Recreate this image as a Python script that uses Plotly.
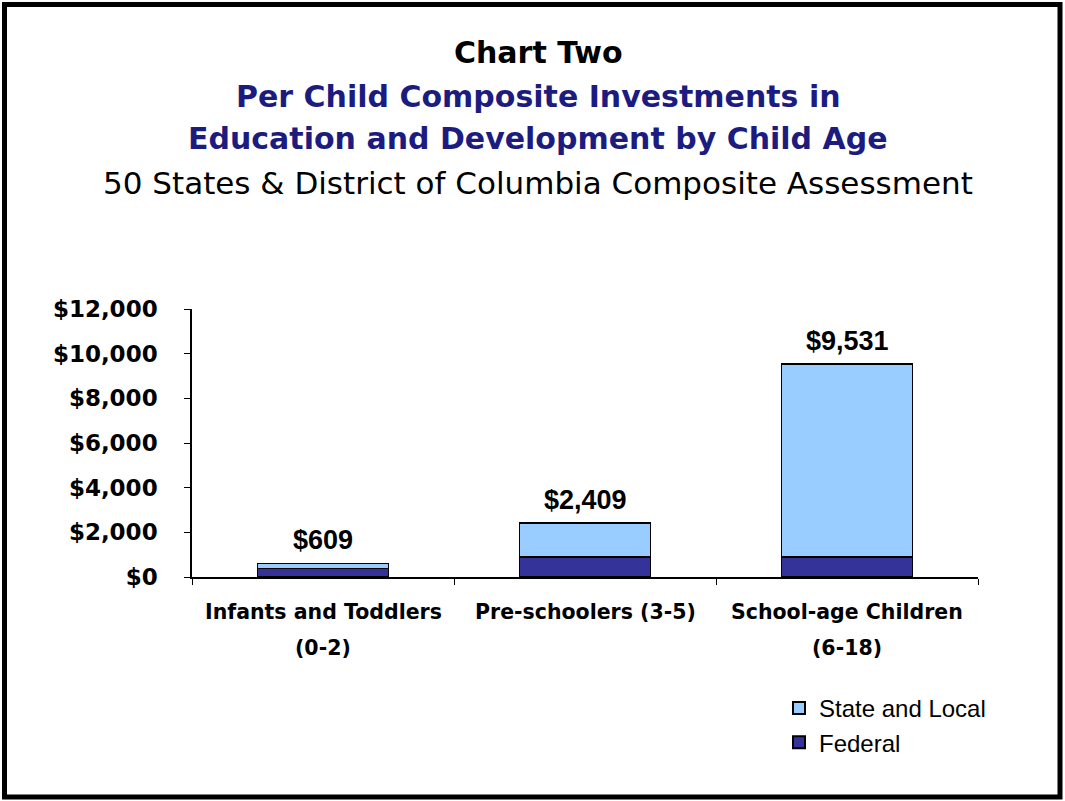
import plotly.graph_objects as go

categories = ["Infants and Toddlers (0-2)", "Pre-schoolers (3-5)", "School-age Children (6-18)"]
category_lines = [["Infants and Toddlers", "(0-2)"], ["Pre-schoolers (3-5)", ""], ["School-age Children", "(6-18)"]]
federal = [370, 900, 900]
totals = [609, 2409, 9531]
state_local = [t - f for t, f in zip(totals, federal)]
y_ticks = [0, 2000, 4000, 6000, 8000, 10000, 12000]
y_tick_labels = ["$0", "$2,000", "$4,000", "$6,000", "$8,000", "$10,000", "$12,000"]
total_labels = ["$609", "$2,409", "$9,531"]

W, H = 1065, 801
L, R, T, B = 192, 978, 309, 577
pw, ph = R - L, B - T


def px(x):
    return (x - L) / pw


def py(y):
    return (B - y) / ph


LIB = "Liberation Sans, Arial, sans-serif"
DJV = "DejaVu Sans, sans-serif"

fig = go.Figure()
fig.add_trace(go.Bar(x=categories, y=federal, name="Federal",
                     marker=dict(color="#333399", line=dict(color="black", width=1.5)),
                     width=0.5))
fig.add_trace(go.Bar(x=categories, y=state_local, name="State and Local",
                     marker=dict(color="#99CCFF", line=dict(color="black", width=1.5)),
                     width=0.5))

annotations = []
for c, t, lab in zip(categories, totals, total_labels):
    annotations.append(dict(x=c, y=t, text="<b>" + lab + "</b>", showarrow=False,
                            yanchor="bottom", yshift=6,
                            font=dict(family=LIB, size=27, color="black")))

for c, lines in zip(categories, category_lines):
    for text, ycen in zip(lines, [612, 648]):
        if text:
            annotations.append(dict(x=c, y=py(ycen), xref="x", yref="paper",
                                    text="<b>" + text + "</b>", showarrow=False,
                                    yanchor="middle",
                                    font=dict(family=DJV, size=20.5, color="black")))

titles = [
    ("<b>Chart Two</b>", 52, "black", 30),
    ("<b>Per Child Composite Investments in</b>", 97, "#1C1C80", 30),
    ("<b>Education and Development by Child Age</b>", 138, "#1C1C80", 30),
    ("50 States & District of Columbia Composite Assessment", 183, "black", 31),
]
for text, ycen, col, size in titles:
    annotations.append(dict(x=px(538), y=py(ycen), xref="paper", yref="paper",
                            text=text, showarrow=False, xanchor="center", yanchor="middle",
                            font=dict(family=DJV, size=size, color=col)))

fig.update_layout(
    width=W, height=H,
    margin=dict(l=L, r=W - R, t=T, b=H - B, autoexpand=False),
    paper_bgcolor="white", plot_bgcolor="white",
    barmode="stack", bargap=0.5,
    showlegend=True,
    legend=dict(x=px(779), y=py(686), xanchor="left", yanchor="top",
                traceorder="reversed", font=dict(family=LIB, size=24, color="black"),
                itemsizing="constant", tracegroupgap=0, bgcolor="rgba(0,0,0,0)"),
    xaxis=dict(type="category", showline=True, linecolor="black", linewidth=1.5,
               ticks="outside", tickson="boundaries", ticklen=6, tickcolor="black",
               showticklabels=False, showgrid=False, range=[-0.5, 2.5]),
    yaxis=dict(range=[0, 12000], tickvals=y_ticks, ticktext=["<b>%s</b>" % s for s in y_tick_labels],
               showline=True, linecolor="black", linewidth=1.5, ticks="outside",
               ticklen=6, tickcolor="black", showgrid=False, zeroline=False,
               ticklabelstandoff=22,
               tickfont=dict(family=DJV, size=23, color="black")),
    annotations=annotations,
    shapes=[dict(type="rect", xref="paper", yref="paper",
                 x0=px(4.5), x1=px(1060), y0=py(4.5), y1=py(797),
                 line=dict(color="black", width=5), fillcolor="rgba(0,0,0,0)", layer="above")],
)

fig.write_html("out.html")
